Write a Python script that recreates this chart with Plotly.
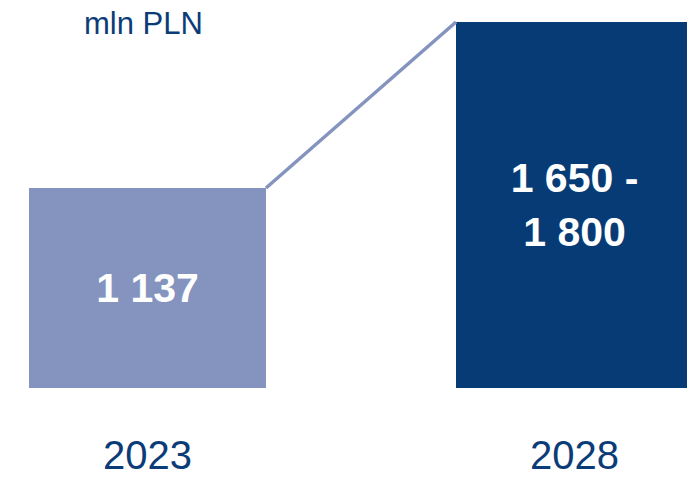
import plotly.graph_objects as go

years = ["2023", "2028"]
values = [1137, 1800]
labels = ["1 137", "1 650 -<br>1 800"]
bar_colors = ["#8594BE", "#073B76"]
unit_label = "mln PLN"

Y_MIN = 338
Y_MAX = 1888
BAR_W = 0.555
x_pos = list(range(len(years)))

fig = go.Figure()
fig.add_trace(go.Bar(
    x=x_pos,
    y=[v - Y_MIN for v in values],
    base=[Y_MIN] * len(values),
    width=BAR_W,
    marker=dict(color=bar_colors, line=dict(width=0)),
    text=labels,
    textposition="inside",
    insidetextanchor="middle",
    textangle=0,
    constraintext="none",
    textfont=dict(family="Liberation Sans, Arial, sans-serif", size=41, color="white", weight="bold"),
    hoverinfo="skip",
))
fig.add_trace(go.Scatter(
    x=[x_pos[0] + BAR_W / 2, x_pos[1] - BAR_W / 2],
    y=values,
    mode="lines",
    line=dict(color="#8594BE", width=3.5),
    hoverinfo="skip",
))

fig.add_annotation(
    text=unit_label, xref="paper", yref="paper",
    x=143 / 687, y=1 - 23 / 388, xanchor="center", yanchor="middle",
    showarrow=False,
    font=dict(family="Liberation Sans, Arial, sans-serif", size=31, color="#0B3C78"),
)

fig.update_layout(
    width=687, height=480,
    margin=dict(l=0, r=0, t=0, b=92, autoexpand=False),
    paper_bgcolor="white", plot_bgcolor="white",
    showlegend=False,
    bargap=0,
    xaxis=dict(
        range=[-0.3454, 1.2635], tickvals=x_pos, ticktext=years,
        showgrid=False, zeroline=False, showline=False, ticks="",
        automargin=False,
        ticklabelstandoff=40,
        tickfont=dict(family="Liberation Sans, Arial, sans-serif", size=40, color="#0B3C78"),
    ),
    yaxis=dict(range=[Y_MIN, Y_MAX], visible=False, showgrid=False, zeroline=False, automargin=False),
)

fig.write_html("out.html")
